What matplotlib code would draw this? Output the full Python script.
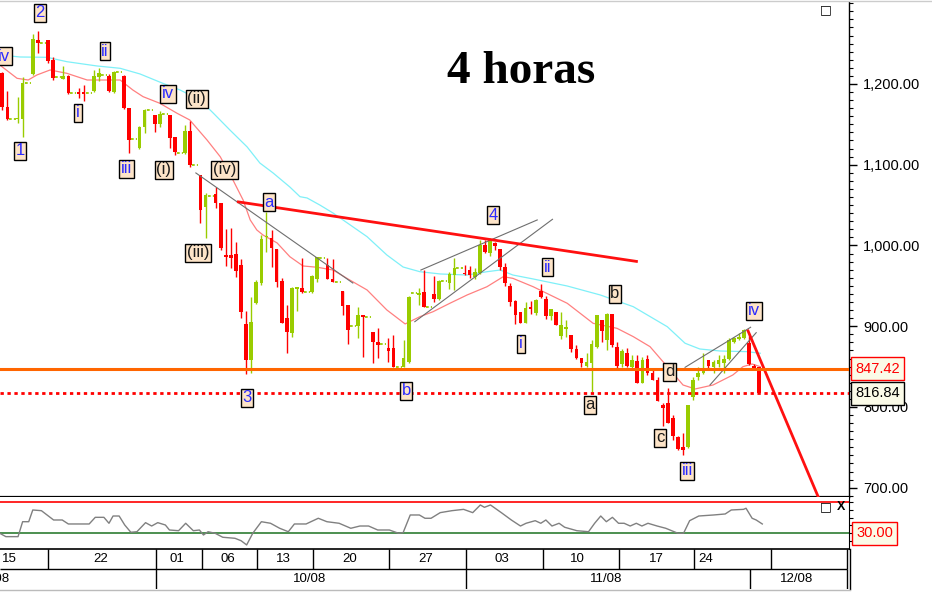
import matplotlib
matplotlib.use("Agg")
import matplotlib.pyplot as plt
import matplotlib.transforms as mtransforms
from matplotlib.lines import Line2D
from matplotlib.ticker import MultipleLocator, FixedLocator, FuncFormatter, NullFormatter
import numpy as np

plt.rcParams['font.family'] = ['Liberation Sans', 'DejaVu Sans']

# ---------------- data (4-hour bars, slot index = bar position) ----------------
candle_slot = [0, 1, 3, 4, 6, 7, 9, 10, 12, 13, 15, 16, 18, 19, 21, 22, 24, 25, 27, 28,
               30, 31, 33, 34, 36, 37, 39, 40, 42, 43, 44, 45, 46, 47, 48, 49, 50, 51, 52, 53,
               54, 55, 56, 57, 58, 59, 61, 62, 64, 65, 67, 68, 70, 71, 73, 74, 76, 77, 79, 80,
               82, 83, 85, 86, 88, 89] + list(range(91, 150))
candle_open = [1213.6, 1171.2, 1156.5, 1156.3, 1212.0, 1254.5, 1254.5, 1229.7, 1206.6, 1209.9,
               1190.0, 1190.0, 1191.7, 1209.0, 1209.9, 1190.5, 1209.9, 1169.9, 1120.4, 1146.4,
               1161.6, 1150.5, 1161.6, 1134.0, 1114.2, 1142.2, 1087.4, 1048.0, 1063.5, 1052.3,
               988.0, 988.0, 989.0, 975.8, 902.9, 858.3, 928.5, 954.1, 1010.0, 1008.9,
               995.7, 956.0, 909.9, 891.4, 946.0, 947.0, 942.8, 958.6, 975.9, 958.0,
               943.8, 926.4, 900.4, 914.0, 893.4, 881.0, 873.0, 872.8, 850.0, 856.2,
               938.8, 942.9, 940.0, 933.5, 954.0, 963.7,
               966.0, 969.7, 961.4, 965.7, 1000.7, 990.4, 1002.6, 995.4, 973.8, 949.9,
               931.7, 918.1, 904.5, 923.5, 916.0, 944.0, 933.5, 912.8, 918.1, 888.0,
               896.7, 889.3, 871.6, 860.4, 851.1, 855.0, 874.0, 907.7, 883.0, 915.2,
               874.0, 853.4, 866.6, 850.0, 857.0, 830.2, 859.2, 842.6, 833.5, 802.6,
               804.7, 786.2, 762.6, 751.0, 750.3, 812.1, 836.9, 841.8, 858.3, 850.0,
               852.9, 855.0, 859.2, 881.0, 883.9, 885.2, 879.7, 851.0, 850.0]
candle_high = [1214.9, 1191.3, 1184.3, 1209.0, 1261.9, 1265.6, 1255.0, 1233.8, 1222.3, 1211.0,
               1194.7, 1198.8, 1217.3, 1220.2, 1212.0, 1216.0, 1211.0, 1170.0, 1148.0, 1168.7,
               1161.6, 1166.6, 1162.0, 1134.0, 1149.3, 1154.6, 1087.4, 1064.7, 1072.9, 1053.0,
               1021.0, 1021.5, 1004.0, 983.3, 919.4, 936.7, 957.5, 1013.0, 1041.9, 1019.3,
               995.7, 959.4, 926.4, 948.3, 948.3, 984.2, 963.5, 986.0, 984.2, 983.0,
               943.8, 926.4, 924.3, 914.0, 893.4, 897.5, 885.0, 889.3, 882.5, 937.5,
               947.0, 969.7, 962.3, 957.3, 967.6, 984.2,
               976.0, 974.7, 972.6, 1006.9, 1006.9, 1008.9, 1004.5, 995.4, 978.8, 953.3,
               932.6, 918.1, 930.5, 931.7, 933.5, 952.4, 937.5, 921.0, 918.1, 918.1,
               907.7, 889.3, 876.8, 860.4, 866.6, 883.0, 914.0, 907.7, 916.1, 915.2,
               881.0, 871.6, 872.8, 864.5, 864.5, 862.0, 864.5, 846.2, 836.8, 804.7,
               823.3, 790.2, 763.7, 768.3, 802.6, 837.7, 850.0, 866.6, 858.3, 858.3,
               864.5, 864.5, 885.0, 887.2, 891.4, 896.2, 888.0, 853.0, 850.0]
candle_low = [1167.8, 1155.4, 1151.3, 1134.0, 1211.0, 1238.0, 1225.6, 1205.0, 1205.8, 1187.3,
              1183.0, 1179.0, 1190.5, 1204.0, 1190.0, 1189.0, 1169.0, 1114.2, 1120.0, 1139.0,
              1141.0, 1146.4, 1121.0, 1112.0, 1113.0, 1097.6, 1028.3, 1009.0, 1046.0, 995.0,
              974.0, 972.0, 961.0, 910.2, 841.0, 841.9, 927.0, 951.0, 992.4, 973.0,
              948.3, 904.5, 866.6, 887.2, 919.3, 941.0, 941.0, 955.3, 958.6, 955.0,
              914.0, 877.8, 885.2, 862.4, 854.0, 861.2, 856.0, 850.0, 850.0, 855.0,
              926.4, 923.5, 930.5, 932.6, 945.8, 945.0,
              963.5, 959.5, 958.2, 964.8, 990.4, 987.0, 994.0, 969.7, 949.9, 925.2,
              902.9, 904.0, 903.7, 915.2, 914.0, 934.7, 908.7, 908.0, 901.6, 884.0,
              886.4, 868.6, 859.2, 849.3, 849.0, 819.0, 873.0, 880.9, 870.6, 874.0,
              848.0, 849.3, 850.0, 848.0, 829.5, 829.5, 839.8, 833.5, 806.8, 776.6,
              780.7, 759.1, 747.0, 740.7, 749.0, 808.7, 833.5, 841.0, 848.0, 841.8,
              850.0, 841.8, 858.0, 879.0, 883.0, 883.9, 852.0, 846.0, 816.84]
candle_close = [1171.5, 1156.3, 1158.0, 1200.8, 1255.3, 1250.4, 1228.9, 1207.0, 1209.9, 1188.5,
                1188.0, 1187.0, 1209.9, 1213.2, 1191.7, 1214.5, 1169.9, 1130.7, 1147.1, 1167.8,
                1150.5, 1162.5, 1132.8, 1116.2, 1142.2, 1099.7, 1044.0, 1062.6, 1052.3, 996.6,
                986.0, 984.0, 968.0, 918.0, 858.3, 905.8, 955.3, 1007.7, 1011.5, 997.3,
                955.3, 904.5, 893.4, 947.0, 948.2, 942.8, 962.7, 985.1, 958.6, 955.0,
                925.2, 895.4, 913.6, 911.0, 881.0, 877.0, 869.0, 850.0, 860.4, 936.7,
                941.7, 923.5, 933.5, 956.1, 964.4, 971.8,
                964.4, 963.5, 966.9, 1000.7, 992.4, 1006.9, 999.3, 973.8, 953.0, 930.5,
                914.0, 904.5, 923.0, 921.0, 932.5, 935.9, 912.8, 921.0, 901.6, 901.6,
                899.3, 871.6, 860.4, 854.2, 855.2, 877.8, 914.0, 894.6, 915.2, 876.9,
                850.9, 869.8, 850.9, 858.3, 830.2, 857.6, 841.8, 833.5, 806.8, 798.5,
                780.7, 764.2, 747.8, 746.8, 802.6, 833.5, 842.6, 848.0, 850.9, 856.2,
                858.3, 859.2, 883.0, 885.2, 887.2, 895.4, 853.4, 848.0, 816.84]

# flat (no-range) bars shown as short dashes
flat_slot = [2, 5, 8, 11, 14, 17, 20, 23, 26, 29, 32, 35, 38, 41, 60, 63, 66, 69, 72, 75, 78, 81, 84, 87, 90]
flat_value = [1157.0, 1200.8, 1250.4, 1208.3, 1188.5, 1188.8, 1210.7, 1215.2, 1131.5, 1167.8,
              1162.5, 1115.0, 1099.7, 1061.7, 942.8, 984.2, 954.9, 900.4, 912.0, 877.8,
              850.0, 941.7, 923.5, 956.1, 971.8]

# moving averages
slow_ma_slot = [-0.5, 3.5, 8.8, 12.7, 18.6, 23.2, 27.1, 31.6, 35, 38.9, 41.5, 44.8, 48.2, 50.7,
                53.3, 56.6, 58.6, 60, 62.5, 65.1, 71.8, 75.7, 78.9, 82.2, 86.2, 91.5, 95.4, 98,
                100.5, 104.5, 111.2, 117.7, 124.2, 130.9, 134.4, 137.3, 141.3, 146.6, 149.2]
slow_ma_value = [1235.9, 1233.4, 1233.0, 1227.6, 1222.3, 1219.4, 1212.4, 1200.8, 1192.5, 1180.2,
                 1164.1, 1143.0, 1122.0, 1102.1, 1089.8, 1072.4, 1060.4, 1058.8, 1050.1, 1040.2,
                 1010.9, 988.2, 973.3, 967.5, 964.7, 963.4, 967.5, 969.6, 963.4, 958.5, 949.8,
                 938.7, 924.2, 899.4, 878.9, 871.8, 869.3, 868.5, 866.5]
fast_ma_slot = [-0.5, 2.9, 5.1, 6.8, 9.4, 12.7, 16.7, 23.2, 25.7, 27.7, 31, 34.4, 36.9, 40.3,
                42.9, 45.4, 47.4, 48.8, 50.1, 51.3, 54.1, 56.6, 59.2, 62, 65.1, 68.4, 71.8, 75.7,
                79.3, 82.2, 84.8, 88.1, 91.5, 95.4, 98.6, 100.5, 104.5, 111.2, 116.3, 121, 124.2,
                127.5, 130.9, 134, 136.4, 139.9, 143.8, 145.8, 147.6, 149.2]
fast_ma_value = [1223.5, 1207.0, 1204.9, 1211.1, 1217.3, 1213.2, 1204.9, 1204.9, 1192.5, 1184.3,
                 1176.1, 1163.7, 1155.4, 1130.6, 1109.9, 1081.1, 1056.3, 1031.6, 1019.2, 1013.0,
                 1003.1, 986.1, 974.6, 973.0, 969.6, 957.2, 944.9, 920.1, 902.8, 911.8, 918.0,
                 928.4, 938.7, 948.9, 961.3, 959.3, 948.9, 928.4, 903.6, 897.4, 887.1, 874.7,
                 849.9, 827.2, 822.3, 827.2, 839.6, 849.9, 853.2, 849.9]

# oscillator
osc_slot = [-0.5, 0.7, 3.1, 4.0, 5.2, 6.0, 7.7, 10.1, 11.8, 13.0, 17.1, 18.3, 20.0, 21.0, 21.8,
            23.0, 24.1, 25.3, 26.5, 28.2, 29.4, 30.6, 32.1, 32.9, 34.7, 36.1, 37.6, 38.8, 39.6,
            40.5, 41.9, 43.4, 45.8, 47.0, 48.1, 49.3, 51.0, 52.8, 54.6, 56.3, 57.5, 59.8, 62.2,
            63.9, 66.3, 68.6, 70.4, 72.1, 73.9, 76.2, 78.0, 78.9, 80.3, 82.1, 83.2, 84.4, 86.2,
            88.5, 90.8, 92.6, 94.1, 94.9, 96.1, 98.4, 100.2, 102.0, 103.1, 104.9, 106.0, 107.0,
            108.2, 109.6, 110.7, 113.1, 115.4, 116.6, 117.8, 118.9, 120.1, 121.3, 122.4, 123.6,
            124.8, 125.9, 127.1, 128.9, 130.6, 133.0, 134.1, 135.3, 137.1, 140.0, 142.3, 143.5,
            145.9, 146.4, 147.6, 148.4, 149.6]
osc_value = [30.0, 25.7, 25.7, 44.8, 44.8, 59.8, 58.9, 47.0, 47.0, 41.9, 41.9, 50.4, 50.4, 42.8,
             52.1, 52.1, 40.6, 31.3, 32.0, 43.6, 39.3, 43.6, 40.6, 34.2, 33.3, 42.8, 33.3, 34.2,
             27.8, 32.0, 30.0, 24.9, 23.6, 20.5, 15.1, 30.0, 44.8, 42.8, 36.4, 32.0, 41.9, 41.9,
             49.2, 44.8, 42.8, 36.4, 39.3, 39.3, 34.2, 34.2, 30.0, 30.8, 53.4, 53.4, 49.2, 49.2,
             56.4, 58.9, 60.6, 56.4, 66.2, 63.2, 66.2, 55.6, 47.0, 39.3, 42.8, 46.1, 42.8, 47.0,
             39.3, 42.8, 37.7, 33.3, 32.0, 42.8, 52.1, 44.8, 50.4, 42.8, 42.8, 39.3, 42.8, 39.3,
             42.8, 39.3, 36.4, 30.0, 30.0, 46.1, 52.1, 53.4, 54.7, 59.8, 60.6, 62.0, 49.2, 47.0,
             41.9]
osc_upper = 70
osc_lower = 30

# price levels
support_level = 847.42
last_price = 816.84

# trend lines
resistance_slot = [46.2, 125.1]
resistance_value = [1054.2, 980.0]
projection_slot = [146.8, 161.2]
projection_value = [894.1, 679.9]
channel_slots = [[38.1, 69.0], [82.4, 105.3], [81.2, 108.3], [134.4, 147.3], [139.3, 148.4]]
channel_values = [[1089.8, 953.5], [969.6, 1031.6], [905.6, 1032.4], [849.1, 898.7], [827.2, 892.0]]

# Elliott wave labels
wave_text = ['iv', '2', 'ii', 'i', '1', 'iv', '(ii)', 'iii', '(i)', '(iv)', 'a', '(iii)', '3',
             'b', '4', 'ii', 'i', 'b', 'a', 'd', 'c', 'iii', 'iv']
wave_slot = [0.4, 7.4, 20.2, 14.9, 3.5, 32.6, 38.3, 24.5, 31.8, 43.8, 52.5, 38.5, 48.2,
             79.5, 96.6, 107.4, 102.1, 120.6, 115.7, 131.4, 129.5, 134.8, 148.0]
wave_value = [1234.6, 1287.9, 1240.8, 1164.1, 1117.0, 1187.6, 1181.4, 1094.7, 1093.5, 1093.5,
              1053.8, 990.7, 811.1, 819.8, 1037.7, 973.3, 878.0, 939.9, 802.5, 843.3, 761.6,
              720.7, 918.9]
wave_blue = [True, True, True, True, True, True, False, True, False, False, True, False, True,
             True, True, True, True, False, False, False, False, True, True]

# date axis
week_labels = ['15', '22', '01', '06', '13', '20', '27', '03', '10', '17', '24']
week_label_pos = [1.3, 19.4, 34.4, 44.4, 55.4, 68.4, 83.4, 98.4, 113.3, 128.7, 138.5]
week_bounds = [8.9, 30.2, 39.3, 50.1, 61.2, 76.1, 91.2, 106.4, 121.4, 136.2, 151.3, 166.3]
month_labels = ['09/08', '10/08', '11/08', '12/08']
month_label_pos = [-1.9, 60.4, 118.8, 156.4]
month_bounds = [30.3, 91.2, 147.2, 166.3]

title = '4 horas'

# ---------------- styling ----------------
W, H = 932, 592
GREEN = '#99cc00'
RED = '#ff0000'
XLIM = (-0.453, 166.67)

fig = plt.figure(figsize=(W / 100, H / 100), dpi=100)
fig.patch.set_facecolor('white')

def fr(x0, y0, x1, y1):
    return [x0 / W, 1 - y1 / H, (x1 - x0) / W, (y1 - y0) / H]

ax = fig.add_axes(fr(0, 2, 849, 497))
axo = fig.add_axes(fr(0, 497, 849, 549))
axd = fig.add_axes(fr(0, 549, 849, 589))

# ---- main panel ----
ax.set_xlim(*XLIM)
ax.set_ylim(688.5, 1301.5)
ax.set_facecolor('white')

ax.plot(slow_ma_slot, slow_ma_value, color='#7ff0f8', lw=0.9, zorder=2)
ax.plot(fast_ma_slot, fast_ma_value, color='#ff8080', lw=0.9, zorder=2)

o = np.array(candle_open)
c = np.array(candle_close)
up = c >= o
cols = np.where(up, GREEN, RED)
ax.vlines(candle_slot, candle_low, candle_high, colors=cols, lw=1.0, zorder=3)
body_bottom = np.minimum(o, c)
body_h = np.maximum(np.abs(c - o), 1.6)
ax.bar(candle_slot, body_h, bottom=body_bottom, width=0.72, color=cols, lw=0, zorder=4)
ax.hlines(flat_value, np.array(flat_slot) - 0.6, np.array(flat_slot) + 0.6,
          colors=GREEN, lw=1.3, linestyles=(0, (1.5, 1.2)), zorder=3)

for xs, ys in zip(channel_slots, channel_values):
    ax.plot(xs, ys, color='#6e6e6e', lw=0.8, zorder=5)
ax.plot(resistance_slot, resistance_value, color='#ff1010', lw=2.0, zorder=5,
        solid_capstyle='butt')
ax.plot(projection_slot, projection_value, color='#ff1010', lw=2.0, zorder=5)

ax.axhline(support_level, color='#ff6600', lw=2.2, zorder=6)
ax.axhline(last_price, color='#ff0000', lw=2.0, ls=(0, (1.2, 1.3)), zorder=6)

for t, xs, ys, b in zip(wave_text, wave_slot, wave_value, wave_blue):
    ax.text(xs, ys, t, ha='center', va='center', fontsize=12,
            color='#2a2aff' if b else '#1a1a1a', zorder=8,
            bbox=dict(boxstyle='square,pad=0.1', fc='#fde4c8', ec='black', lw=1))

for s in ['left', 'top']:
    ax.spines[s].set_visible(False)
ax.spines['bottom'].set_linewidth(1.6)
ax.spines['right'].set_linewidth(1.0)
ax.set_xticks([])
ax.yaxis.tick_right()
ax.yaxis.set_major_locator(FixedLocator([700, 800, 900, 1000, 1100, 1200]))
ax.yaxis.set_minor_locator(MultipleLocator(10))
ax.yaxis.set_major_formatter(FuncFormatter(lambda v, p: f'{v:,.2f}'))
ax.tick_params(axis='y', which='major', length=6, width=1, pad=4, labelsize=10.5)
ax.tick_params(axis='y', which='minor', length=3, width=0.8)

tr = mtransforms.blended_transform_factory(fig.transFigure, ax.transData)
ax.text(855 / W, support_level, f'{support_level:.2f}', transform=tr, ha='left', va='center',
        fontsize=10.5, color='#ff0000', zorder=10, clip_on=False,
        bbox=dict(boxstyle='square,pad=0.3', fc='#fbfbe8', ec='#ff0000', lw=1))
ax.text(855 / W, last_price, f'{last_price:.2f}', transform=tr, ha='left', va='center',
        fontsize=10.5, color='black', zorder=10, clip_on=False,
        bbox=dict(boxstyle='square,pad=0.3', fc='#fbfbe8', ec='black', lw=1))

fig.text(521 / W, 1 - 83 / H, title, ha='center', va='baseline', fontsize=34,
         fontweight='bold', family=['Liberation Serif', 'DejaVu Serif'])
fig.text(826 / W, 1 - 10 / H, '\u25a1', ha='center', va='center', fontsize=9,
         family='DejaVu Sans')

# ---- oscillator panel ----
axo.set_xlim(*XLIM)
axo.set_ylim(9.9, 76.4)
axo.plot(osc_slot, osc_value, color='#808080', lw=1.0, zorder=3)
axo.axhline(osc_upper, color='#ff0000', lw=1.2, zorder=2)
axo.axhline(osc_lower, color='#2e7d32', lw=1.2, zorder=2)
for s in ['left', 'top']:
    axo.spines[s].set_visible(False)
axo.spines['bottom'].set_linewidth(1.2)
axo.set_xticks([])
axo.yaxis.tick_right()
axo.yaxis.set_major_locator(FixedLocator([20, 30, 40, 50, 60, 70]))
axo.yaxis.set_major_formatter(NullFormatter())
axo.tick_params(axis='y', length=3, width=0.8)
tro = mtransforms.blended_transform_factory(fig.transFigure, axo.transData)
axo.text(856 / W, osc_lower, f'{osc_lower:.2f}', transform=tro, ha='left', va='center',
         fontsize=10.5, color='#ff0000', zorder=10, clip_on=False,
         bbox=dict(boxstyle='square,pad=0.3', fc='#fbfbe8', ec='#ff0000', lw=1))
fig.text(826 / W, 1 - 507 / H, '\u25a1', ha='center', va='center', fontsize=9,
         family='DejaVu Sans')
fig.text(841 / W, 1 - 507 / H, 'X', ha='center', va='center', fontsize=9, fontweight='bold')

# ---- date rows ----
axd.set_xlim(*XLIM)
axd.set_ylim(0, 2)
axd.axis('off')
axd.vlines(week_bounds, 1, 2, colors='black', lw=1)
axd.vlines(month_bounds, 0, 1, colors='black', lw=1)
axd.hlines(1, XLIM[0], week_bounds[-1], colors='black', lw=1)
for lbl, p in zip(week_labels, week_label_pos):
    axd.text(p, 1.5, lbl, ha='center', va='center', fontsize=9.5)
for lbl, p in zip(month_labels, month_label_pos):
    axd.text(p, 0.5, lbl, ha='center', va='center', fontsize=9.5, clip_on=True)

fig.add_artist(Line2D([849.5 / W, 849.5 / W], [1 - 589 / H, 1 - 549 / H],
                      transform=fig.transFigure, color='black', lw=1))
fig.add_artist(Line2D([0, 1], [1 - 0.5 / H, 1 - 0.5 / H], transform=fig.transFigure,
                      color='#cccccc', lw=1))
fig.add_artist(Line2D([0, 849.5 / W], [1 - 590 / H, 1 - 590 / H], transform=fig.transFigure,
                      color='#bbbbbb', lw=1))

fig.savefig('out.png', dpi=100, facecolor='white')
